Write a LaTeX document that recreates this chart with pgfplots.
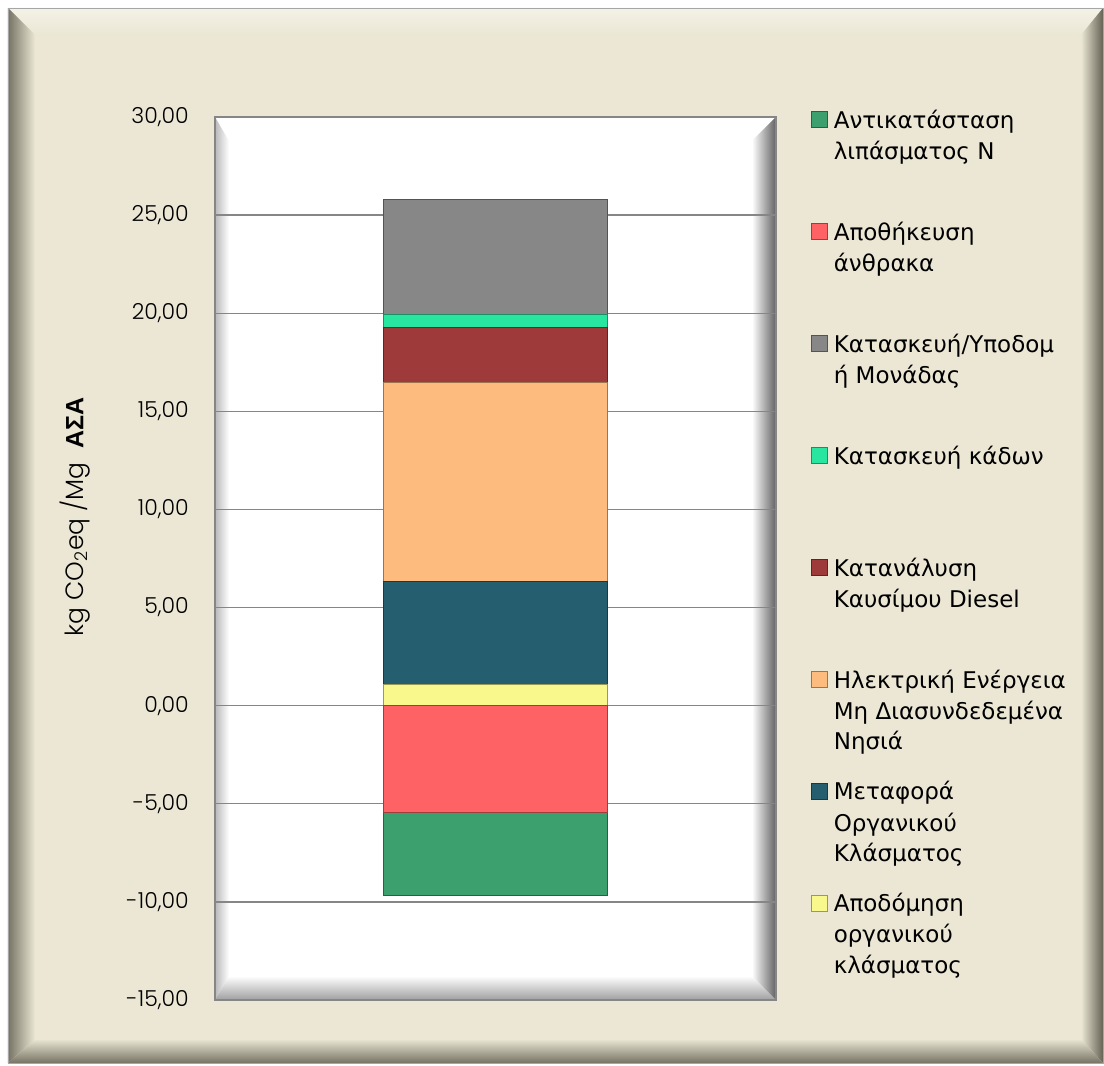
\documentclass[border=0pt]{standalone}
\usepackage{pgfplots}
\pgfplotsset{compat=1.18}
\usepackage{fontspec}
\setmainfont{DejaVu Sans}
\newfontfamily\tickfont{Poppins Light}
\newfontfamily\greekbold{Liberation Sans}

\definecolor{framebg}{RGB}{235,231,212}
\definecolor{framedark}{RGB}{118,115,100}
\definecolor{gridgray}{RGB}{134,134,134}
\definecolor{cgreen}{RGB}{60,160,110}
\definecolor{cred}{RGB}{255,98,101}
\definecolor{cgrey}{RGB}{135,135,135}
\definecolor{ccyan}{RGB}{40,230,160}
\definecolor{cdred}{RGB}{158,58,57}
\definecolor{corange}{RGB}{253,187,125}
\definecolor{cteal}{RGB}{37,94,110}
\definecolor{cyellow}{RGB}{248,248,140}

\pgfplotsset{
  panel/.style={
    width=561pt, height=883pt, scale only axis,
    xmin=-1, xmax=1, ymin=-15, ymax=30,
    xtick=\empty,
    ybar stacked, bar width=224pt,
    axis line style={draw=none},
    major tick length=0pt,
  },
  seg/.style={fill=#1, draw=#1!62!black, line width=0.8pt},
  % square legend swatch for a bar segment
  sw/.style={fill=#1, draw=#1!62!black, line width=0.8pt,
    legend image code/.code={\draw[##1] (0pt,1pt) rectangle (16pt,17pt);}},
}
% one legend entry, set as a paragraph hanging from its first baseline
\newcommand\entry[1]{\parbox[t]{260pt}{#1}}

\begin{document}
\begin{tikzpicture}
\useasboundingbox (-215pt,-66pt) rectangle (889pt,1000pt);

% outer bevelled frame
\fill[framebg] (-207pt,-63pt) rectangle (888pt,992pt);
\shade[top color=framebg!55!white, middle color=white, bottom color=framebg]
  (-207pt,992pt) -- (888pt,992pt) -- (866pt,965pt) -- (-180pt,965pt) -- cycle;
\shade[left color=framedark, right color=framebg]
  (-207pt,992pt) -- (-180pt,965pt) -- (-180pt,-39pt) -- (-207pt,-63pt) -- cycle;
\shade[left color=framebg, right color=framedark!85!black]
  (888pt,992pt) -- (888pt,-63pt) -- (866pt,-39pt) -- (866pt,965pt) -- cycle;
\shade[top color=framebg, bottom color=framedark]
  (-207pt,-63pt) -- (888pt,-63pt) -- (866pt,-39pt) -- (-180pt,-39pt) -- cycle;
\draw[gray!70, line width=0.8pt] (-207pt,-63pt) rectangle (888pt,992pt);

% sunken plot panel
\fill[white] (0pt,0pt) rectangle (561pt,883pt);
\shade[left color=gray!55, right color=white]
  (0pt,0pt) -- (14pt,24pt) -- (14pt,859pt) -- (0pt,883pt) -- cycle;
\shade[top color=white, bottom color=gray!75]
  (0pt,0pt) -- (561pt,0pt) -- (537pt,24pt) -- (14pt,24pt) -- cycle;
\shade[left color=white, right color=black!62]
  (561pt,0pt) -- (561pt,883pt) -- (537pt,859pt) -- (537pt,24pt) -- cycle;
\draw[gridgray, line width=1.2pt] (0pt,0pt) rectangle (561pt,883pt);

% positive contributions
\begin{axis}[panel,
  ytick={-15,-10,...,30},
  ymajorgrids,
  grid style={draw=gridgray, line width=1.3pt},
  yticklabel style={font=\tickfont\fontsize{22}{22}\selectfont, text=black,
    inner sep=0pt, xshift=-26pt,
    /pgf/number format/.cd, fixed, fixed zerofill, precision=2, use comma,
    assume math mode=true},
  ylabel={\tickfont\fontsize{25}{25}\selectfont kg CO\textsubscript{2}eq /Mg\hspace{0.55em}{\greekbold\bfseries ΑΣΑ}},
  ylabel style={at={(axis description cs:-0.2496,0.547)}, anchor=center},
]
\addplot[seg=cyellow] coordinates {(0,1.07)};
\addplot[seg=cteal]   coordinates {(0,5.26)};
\addplot[seg=corange] coordinates {(0,10.15)};
\addplot[seg=cdred]   coordinates {(0,2.81)};
\addplot[seg=ccyan]   coordinates {(0,0.66)};
\addplot[seg=cgrey]   coordinates {(0,5.87)};
\end{axis}

% negative contributions and legend
\begin{axis}[panel, hide axis,
  legend style={at={(axis description cs:1.0624,1.0102)}, anchor=north west,
    draw=none, fill=none, inner sep=0pt, outer sep=0pt,
    row sep=0pt, column sep=6pt,
    font=\fontsize{23}{31}\selectfont,
    cells={anchor=base west},
    nodes={inner sep=0pt, outer sep=0pt, text height=20pt, text depth=92pt}},
]
\addplot[seg=cred, forget plot]   coordinates {(0,-5.46)};
\addplot[seg=cgreen, forget plot] coordinates {(0,-4.23)};

\addlegendimage{sw=cgreen}
\addlegendentry{\entry{Αντικατάσταση\\λιπάσματος Ν}}
\addlegendimage{sw=cred}
\addlegendentry{\entry{Αποθήκευση\\άνθρακα}}
\addlegendimage{sw=cgrey}
\addlegendentry{\entry{Κατασκευή/Υποδομ\\ή Μονάδας}}
\addlegendimage{sw=ccyan}
\addlegendentry{\entry{Κατασκευή κάδων}}
\addlegendimage{sw=cdred}
\addlegendentry{\entry{Κατανάλυση\\Καυσίμου Diesel}}
\addlegendimage{sw=corange}
\addlegendentry{\entry{Ηλεκτρική Ενέργεια\\Μη Διασυνδεδεμένα\\Νησιά}}
\addlegendimage{sw=cteal}
\addlegendentry{\entry{Μεταφορά\\Οργανικού\\Κλάσματος}}
\addlegendimage{sw=cyellow}
\addlegendentry{\entry{Αποδόμηση\\οργανικού\\κλάσματος}}
\end{axis}
\end{tikzpicture}
\end{document}
